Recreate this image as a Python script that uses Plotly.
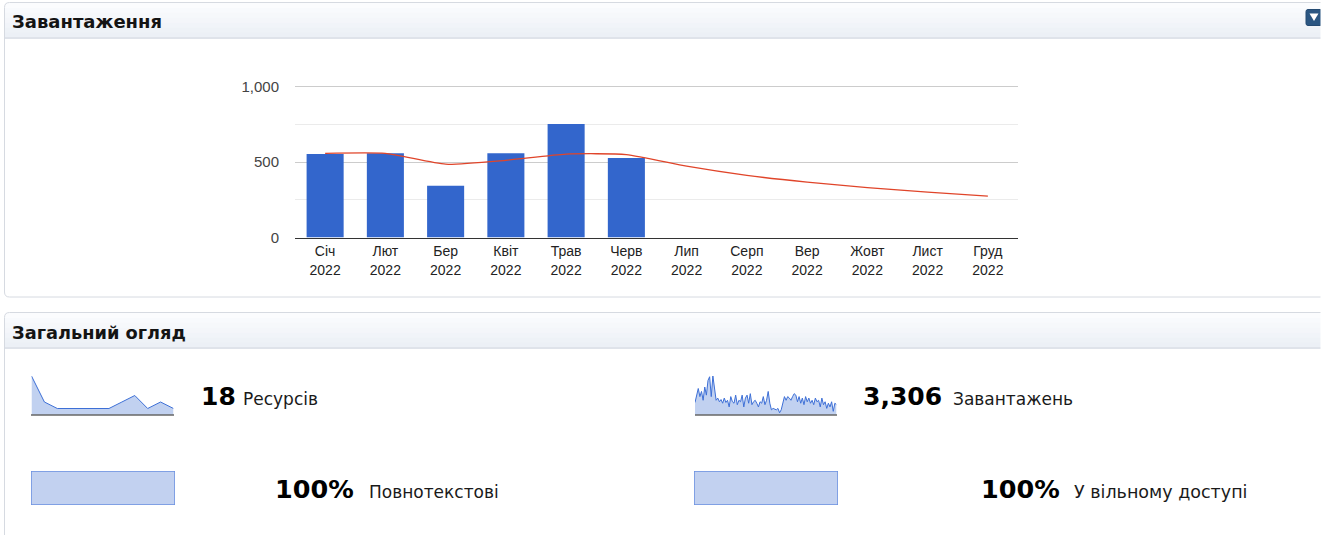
import plotly.graph_objects as go

W, H = 1331, 535

# ---------------- data ----------------
months = ["Січ", "Лют", "Бер", "Квіт", "Трав", "Черв", "Лип", "Серп", "Вер", "Жовт", "Лист", "Груд"]
year = "2022"
monthly_downloads = [553, 558, 343, 558, 752, 527, None, None, None, None, None, None]
trend = [558, 558, 486, 512, 553, 550, 473, 412, 367, 331, 301, 274]
y_ticks = [0, 500, 1000]
y_tick_labels = ["0", "500", "1,000"]
y_minor_ticks = [250, 750]

resources_monthly = [6, 2, 1, 1, 1, 1, 1, 2, 3, 1, 2, 1]
downloads_daily = [17, 29, 36, 25, 32, 20, 38, 27, 47, 52, 25, 53, 36, 20, 23, 18, 21, 16, 23, 17,
                   20, 11, 25, 18, 16, 27, 14, 20, 18, 27, 11, 23, 27, 16, 29, 14, 18, 20, 16, 11,
                   18, 16, 25, 14, 20, 32, 16, 7, 9, 8, 7, 9, 3, 7, 18, 25, 20, 25, 23, 20,
                   25, 29, 27, 18, 25, 16, 23, 14, 25, 18, 23, 16, 20, 14, 23, 18, 20, 11, 23, 14,
                   18, 9, 16, 11, 18, 5, 16, 14]

panel1_title = "Завантаження"
panel2_title = "Загальний огляд"
total_resources = "18"
resources_label = "Ресурсів"
total_downloads = "3,306"
downloads_label = "Завантажень"
fulltext_pct = "100%"
fulltext_label = "Повнотекстові"
open_pct = "100%"
open_label = "У вільному доступі"
pct_values = [100, 100]

# ---------------- helpers (pixel -> paper) ----------------
def X(px):
    return px / W

def Y(py):
    return 1 - py / H

shapes = []
annotations = []


def rect(x0, y0, x1, y1, fill, line_color=None, lw=0, layer="below"):
    shapes.append(dict(type="rect", xref="paper", yref="paper",
                       x0=X(x0), x1=X(x1), y0=Y(y1), y1=Y(y0),
                       fillcolor=fill, layer=layer,
                       line=dict(color=line_color or "rgba(0,0,0,0)", width=lw)))


def rr_path(x0, y0, x1, y1, r):
    return (f"M {X(x0 + r)},{Y(y0)} L {X(x1 - r)},{Y(y0)} Q {X(x1)},{Y(y0)} {X(x1)},{Y(y0 + r)} "
            f"L {X(x1)},{Y(y1 - r)} Q {X(x1)},{Y(y1)} {X(x1 - r)},{Y(y1)} "
            f"L {X(x0 + r)},{Y(y1)} Q {X(x0)},{Y(y1)} {X(x0)},{Y(y1 - r)} "
            f"L {X(x0)},{Y(y0 + r)} Q {X(x0)},{Y(y0)} {X(x0 + r)},{Y(y0)} Z")


def hline(x0, x1, y, color, width, layer="below"):
    shapes.append(dict(type="line", xref="paper", yref="paper",
                       x0=X(x0), x1=X(x1), y0=Y(y), y1=Y(y), layer=layer,
                       line=dict(color=color, width=width)))


def txt(x, y, text, size, family="DejaVu Sans", color="#111111", bold=False):
    annotations.append(dict(xref="paper", yref="paper", x=X(x), y=Y(y),
                            xanchor="left", yanchor="middle", showarrow=False,
                            borderpad=0,
                            text=f"<b>{text}</b>" if bold else text,
                            font=dict(family=family, size=size, color=color)))


def panel(y0, y1, title, title_y, title_size):
    # header gradient bands
    top = (251, 252, 254)
    bot = (236, 240, 246)
    n = 7
    hy0, hy1 = y0 + 0.5, y0 + 35
    for i in range(n):
        t = i / (n - 1)
        c = tuple(round(top[k] + (bot[k] - top[k]) * t) for k in range(3))
        a = hy0 + (hy1 - hy0) * i / n
        b = hy0 + (hy1 - hy0) * (i + 1) / n
        rect(5, a, 1340, b + 0.5, f"rgb{c}")
    hline(5, 1340, y0 + 35.5, "#dfe3ea", 2)
    shapes.append(dict(type="path", xref="paper", yref="paper", layer="below",
                       path=rr_path(4.5, y0, 1340, y1, 5),
                       fillcolor="rgba(0,0,0,0)", line=dict(color="#d6dae1", width=1)))
    txt(11, title_y, title, title_size, bold=True, color="#141414")


panel(2.5, 297, panel1_title, 21, 18)
panel(312.5, 600, panel2_title, 332, 17.8)

# dropdown icon
shapes.append(dict(type="path", xref="paper", yref="paper", layer="above",
                   path=rr_path(1306, 9.5, 1322, 25.5, 2),
                   fillcolor="#2b5682", line=dict(color="#244a72", width=1)))
shapes.append(dict(type="path", xref="paper", yref="paper", layer="above",
                   path=f"M {X(1309.5)},{Y(13.5)} L {X(1318.5)},{Y(13.5)} L {X(1314)},{Y(21)} Z",
                   fillcolor="#ffffff", line=dict(width=0)))
# page edge (right side of the capture is blank)
rect(1320.5, -5, 1340, 600, "#ffffff", layer="above")

# ---------------- traces ----------------
cats = [f"{m}<br>{year}" for m in months]
fig = go.Figure()

fig.add_trace(go.Bar(x=cats, y=monthly_downloads, marker=dict(color="#3366cc", line=dict(width=0)),
                     xaxis="x", yaxis="y", showlegend=False, hoverinfo="skip"))
fig.add_trace(go.Scatter(x=cats, y=trend, mode="lines",
                         line=dict(color="#e0452a", width=1.3, shape="spline", smoothing=0.55),
                         xaxis="x", yaxis="y", showlegend=False, hoverinfo="skip"))

spark_fill = "rgba(51,102,204,0.30)"
spark_line = "#3d6fd6"
fig.add_trace(go.Scatter(x=list(range(len(resources_monthly))), y=resources_monthly, mode="lines",
                         fill="tozeroy", fillcolor=spark_fill, line=dict(color=spark_line, width=1),
                         xaxis="x2", yaxis="y2", showlegend=False, hoverinfo="skip"))
fig.add_trace(go.Scatter(x=list(range(len(downloads_daily))), y=downloads_daily, mode="lines",
                         fill="tozeroy", fillcolor=spark_fill, line=dict(color=spark_line, width=1),
                         xaxis="x3", yaxis="y3", showlegend=False, hoverinfo="skip"))
# progress bars (percentage of full width)
fig.add_trace(go.Bar(x=[pct_values[0]], y=[0], orientation="h", width=1,
                     marker=dict(color="#c2d1f0", line=dict(color="#6b90df", width=1.5)),
                     xaxis="x4", yaxis="y4", showlegend=False, hoverinfo="skip"))
fig.add_trace(go.Bar(x=[pct_values[1]], y=[0], orientation="h", width=1,
                     marker=dict(color="#c2d1f0", line=dict(color="#6b90df", width=1.5)),
                     xaxis="x5", yaxis="y5", showlegend=False, hoverinfo="skip"))

# sparkline baselines
hline(31, 174, 415, "#666666", 1.5, layer="above")
hline(695, 837, 415, "#666666", 1.5, layer="above")

# ---------------- texts ----------------
txt(200, 396, total_resources, 25, bold=True, color="#000000")
txt(242, 399, resources_label, 17, color="#1a1a1a")
txt(862, 396, total_downloads, 25, bold=True, color="#000000")
txt(952, 399, downloads_label, 17, color="#1a1a1a")
txt(274, 489, fulltext_pct, 25.5, bold=True, color="#000000")
txt(368, 492, fulltext_label, 17, color="#1a1a1a")
txt(980, 489, open_pct, 25.5, bold=True, color="#000000")
txt(1073, 492, open_label, 17.5, color="#1a1a1a")

hidden = dict(visible=False, fixedrange=True, automargin=False)

fig.update_layout(
    template="none",
    width=W, height=H,
    margin=dict(l=0, r=0, t=0, b=0, pad=0, autoexpand=False),
    paper_bgcolor="#ffffff", plot_bgcolor="rgba(0,0,0,0)",
    bargap=0.385,
    showlegend=False,
    shapes=shapes, annotations=annotations,
    xaxis=dict(domain=[X(295), X(1018)], showline=True, linecolor="#333333", linewidth=1.3,
               showgrid=False, zeroline=False, automargin=False,
               ticks="outside", ticklen=1, tickcolor="rgba(0,0,0,0)",
               tickfont=dict(family="Liberation Sans", size=14, color="#222222"),
               fixedrange=True),
    yaxis=dict(domain=[Y(237.5), Y(85.2)], range=[0, 1010], tickvals=y_ticks, ticktext=y_tick_labels,
               showgrid=True, gridcolor="#cccccc", gridwidth=1, zeroline=False, showline=False,
               automargin=False,
               ticks="outside", ticklen=12, tickcolor="rgba(0,0,0,0)",
               minor=dict(tickvals=y_minor_ticks, showgrid=True, gridcolor="#ebebeb", gridwidth=1, ticks=""),
               tickfont=dict(family="Liberation Sans", size=15, color="#444444"),
               fixedrange=True),
    xaxis2=dict(domain=[X(31.5), X(173.5)], range=[0, len(resources_monthly) - 1], anchor="y2", **hidden),
    yaxis2=dict(domain=[Y(415), Y(376)], range=[0, max(resources_monthly)], anchor="x2", **hidden),
    xaxis3=dict(domain=[X(695), X(836.5)], range=[0, len(downloads_daily) - 1], anchor="y3", **hidden),
    yaxis3=dict(domain=[Y(415), Y(376)], range=[0, max(downloads_daily)], anchor="x3", **hidden),
    xaxis4=dict(domain=[X(31), X(175)], range=[0, 100], anchor="y4", **hidden),
    yaxis4=dict(domain=[Y(505), Y(471)], range=[-0.5, 0.5], anchor="x4", **hidden),
    xaxis5=dict(domain=[X(694), X(838)], range=[0, 100], anchor="y5", **hidden),
    yaxis5=dict(domain=[Y(505), Y(471)], range=[-0.5, 0.5], anchor="x5", **hidden),
)

fig.write_html("out.html", config={"displayModeBar": False},
               post_script="document.body.style.margin='0';document.body.style.overflow='hidden';")
